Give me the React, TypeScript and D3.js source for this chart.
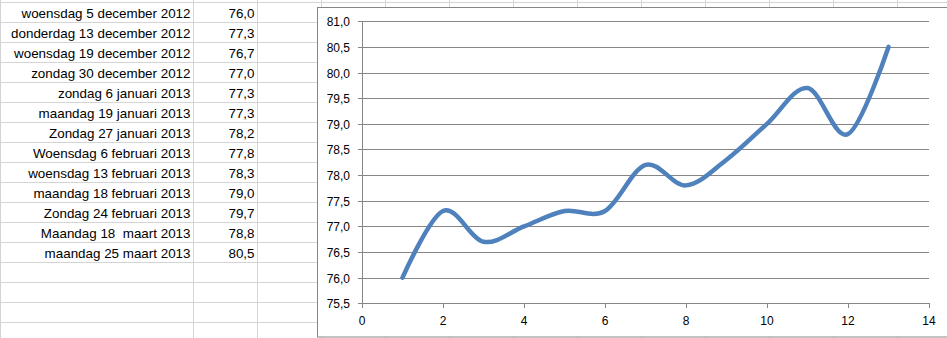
import React, { useEffect } from "react";
import * as d3 from "d3";

const dates = [
  "woensdag 5 december 2012",
  "donderdag 13 december 2012",
  "woensdag 19 december 2012",
  "zondag 30 december 2012",
  "zondag 6 januari 2013",
  "maandag 19 januari 2013",
  "Zondag 27 januari 2013",
  "Woensdag 6 februari 2013",
  "woensdag 13 februari 2013",
  "maandag 18 februari 2013",
  "Zondag 24 februari 2013",
  "Maandag 18  maart 2013",
  "maandag 25 maart 2013",
];
const values = [76.0, 77.3, 76.7, 77.0, 77.3, 77.3, 78.2, 77.8, 78.3, 79.0, 79.7, 78.8, 80.5];
const xTicks = [0, 2, 4, 6, 8, 10, 12, 14];
const yTicks = [75.5, 76.0, 76.5, 77.0, 77.5, 78.0, 78.5, 79.0, 79.5, 80.0, 80.5, 81.0];

const W = 947;
const H = 338;
const fmt = (v: number) => v.toFixed(1).replace(".", ",");

export default function App() {
  useEffect(() => {
    document.body.style.margin = "0";
  }, []);

  const x = d3.scaleLinear().domain([0, 14]).range([362, 929]);
  const y = d3.scaleLinear().domain([75.5, 81]).range([303.3, 21.3]);

  const pts: [number, number][] = values.map((v, i) => [i + 1, v]);
  const line = d3
    .line<[number, number]>()
    .x((d) => x(d[0]))
    .y((d) => y(d[1]))
    .curve(d3.curveCatmullRom.alpha(0));

  const rowH = 20;
  const rowTop = 2;
  const nRows = 17;
  const colLines = [0.5, 193.5, 257.5];
  const topCols = d3.range(321.5, W, 64);

  const gridColor = "#d4d4d4";
  const axisColor = "#868686";

  return (
    <svg width={W} height={H} style={{ display: "block", background: "#fff" }}>
      {/* spreadsheet grid */}
      {d3.range(nRows).map((i) => (
        <line key={"r" + i} x1={0} x2={W} y1={rowTop + i * rowH + 0.5} y2={rowTop + i * rowH + 0.5} stroke={gridColor} />
      ))}
      {colLines.concat(topCols).map((cx, i) => (
        <line key={"c" + i} x1={cx} x2={cx} y1={0} y2={H} stroke={gridColor} />
      ))}
      {dates.map((d, i) => (
        <text
          key={"d" + i}
          x={190.5}
          y={rowTop + (i + 1) * rowH - 4.5}
          textAnchor="end"
          fontFamily="'Liberation Sans', Arial, sans-serif"
          fontSize={13.4}
          fill="#000"
          style={{ whiteSpace: "pre" }}
        >
          {d}
        </text>
      ))}
      {values.map((v, i) => (
        <text
          key={"v" + i}
          x={254.5}
          y={rowTop + (i + 1) * rowH - 4.5}
          textAnchor="end"
          fontFamily="'Liberation Sans', Arial, sans-serif"
          fontSize={13.4}
          fill="#000"
        >
          {fmt(v)}
        </text>
      ))}

      {/* chart frame */}
      <rect x={317.5} y={7.5} width={W} height={329.5} fill="#fff" stroke={axisColor} strokeWidth={1} />

      {/* gridlines + y ticks */}
      {yTicks.map((t) => (
        <g key={"y" + t}>
          <line x1={358} x2={x(14)} y1={Math.round(y(t)) + 0.5} y2={Math.round(y(t)) + 0.5} stroke={axisColor} />
          <text
            x={350}
            y={Math.round(y(t)) + 4.5}
            textAnchor="end"
            fontFamily="'Liberation Sans', Arial, sans-serif"
            fontSize={12}
            fill="#000"
          >
            {fmt(t)}
          </text>
        </g>
      ))}
      {/* y axis */}
      <line x1={362.5} x2={362.5} y1={Math.round(y(81)) + 0.5} y2={Math.round(y(75.5)) + 0.5} stroke={axisColor} />
      {/* x ticks */}
      {xTicks.map((t) => (
        <g key={"x" + t}>
          <line
            x1={Math.round(x(t)) + 0.5}
            x2={Math.round(x(t)) + 0.5}
            y1={Math.round(y(75.5))}
            y2={Math.round(y(75.5)) + 5}
            stroke={axisColor}
          />
          <text
            x={x(t)}
            y={325}
            textAnchor="middle"
            fontFamily="'Liberation Sans', Arial, sans-serif"
            fontSize={12}
            fill="#000"
          >
            {t}
          </text>
        </g>
      ))}

      {/* series */}
      <path d={line(pts) || ""} fill="none" stroke="#4F81BD" strokeWidth={4.5} strokeLinecap="round" strokeLinejoin="round" />
    </svg>
  );
}
